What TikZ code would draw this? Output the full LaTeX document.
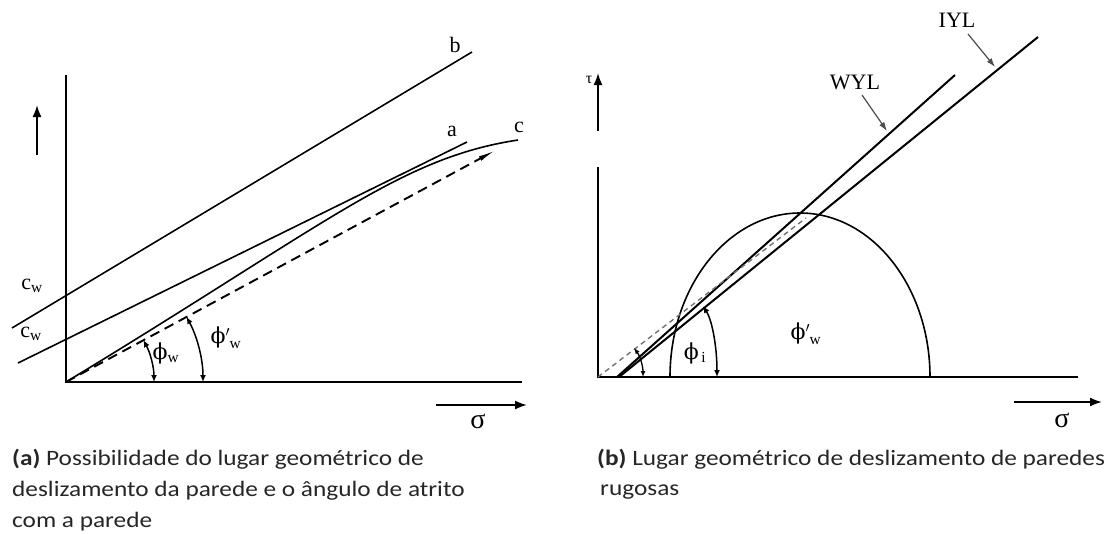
\documentclass[tikz,border=0pt]{standalone}
\usepackage{fontspec}
\setmainfont{Liberation Serif}
\newfontfamily\capfont[FakeStretch=1.15]{Carlito}
\newfontfamily\grk{DejaVu Serif}
\usetikzlibrary{arrows.meta}
\begin{document}
\begin{tikzpicture}[x=1pt,y=-1pt,
  ln/.style={line width=1.6pt},
  thk/.style={line width=2.0pt},
  ax/.style={line width=2.2pt},
  dirarrow/.style={line width=1.9pt,-{Latex[length=12pt,width=9pt]}},
  angarc/.style={line width=1.5pt,{Latex[length=7pt,width=6pt]}-{Latex[length=7pt,width=6pt]}},
  pointer/.style={line width=1.2pt,draw=black!70,-{Latex[length=9pt,width=6pt]}},
  lbl/.style={inner sep=0pt,font=\fontsize{22}{26}\selectfont},
  sig/.style={inner sep=0pt,font=\fontsize{28}{30}\selectfont},
  captxt/.style={inner sep=0pt,anchor=base west,text=black!85,font=\capfont\fontsize{22}{26}\selectfont}]

\fill[white] (0,0) rectangle (1113,533);
\useasboundingbox (0,0) rectangle (1113,533);

% ---------------- left panel ----------------
\coordinate (O1) at (66,382);
\coordinate (ytop1) at (66,75);
\coordinate (xend1) at (522,382);
\draw[ax] (ytop1) -- (O1) -- (xend1);

\coordinate (b0) at (12,328);  \coordinate (b1) at (472,52);
\coordinate (a0) at (18,363);  \coordinate (a1) at (467,142);
\coordinate (c1) at (518,140);
\coordinate (d1) at (496,150);
\draw[ln] (b0) -- (b1);
\draw[ln] (a0) -- (a1);
\draw[ln] (O1) .. controls (330,222) and (400,158) .. (c1);
\draw[line width=1.9pt,dash pattern=on 10pt off 6pt,-{Latex[length=18pt,width=5pt]}] (O1) -- (d1);

\draw[angarc] ([shift={(O1)}]-28.4:88) arc[start angle=-28.4,end angle=0,radius=88];
\draw[angarc] ([shift={(O1)}]-28.4:137) arc[start angle=-28.4,end angle=0,radius=137];

\node[lbl] (lb) at (455,45) {b};
\node[lbl] (la) at (452,131) {a};
\node[lbl] (lc) at (519,127) {c};
\node[lbl] (cw1) at (32,286) {$\mathrm{c}_{\mathrm{w}}$};
\node[lbl] (cw2) at (31,334) {$\mathrm{c}_{\mathrm{w}}$};
\node[lbl] (phw) at (166,353) {{\grk ϕ}$_{\mathrm{w}}$};
\node[lbl] (phw2) at (226,338) {{\grk ϕ}$'_{\;\mathrm{w}}$};

\coordinate (up0) at (37,155); \coordinate (up1) at (37,105);
\draw[dirarrow] (up0) -- (up1);
\coordinate (sa0) at (436,405); \coordinate (sa1) at (527,405);
\draw[dirarrow] (sa0) -- (sa1);
\node[sig] (sg1) at (478,421) {σ};

% ---------------- right panel ----------------
\coordinate (O2) at (598,377);
\coordinate (ytop2) at (598,167);
\coordinate (xend2) at (1078,377);
\draw[ax] (ytop2) -- (O2) -- (xend2);

\coordinate (w0) at (617,377); \coordinate (w1) at (955,75);
\coordinate (i0) at (619,377); \coordinate (i1) at (1038,37);
\draw[thk] (w0) -- (w1);
\draw[thk] (i0) -- (i1);
\draw[ln] (670,377) arc[start angle=180,end angle=360,x radius=130,y radius=164];
\coordinate (g1) at (806,218);
\draw[line width=1.4pt,black!55,dash pattern=on 5pt off 4pt] (O2) -- (g1);

\draw[angarc] (703,306) .. controls (713,322) and (717,350) .. (717,377);
\draw[line width=1.3pt,{Latex[length=6pt,width=5pt]}-{Latex[length=6pt,width=5pt]}] (634,348) .. controls (640,356) and (643,366) .. (643,377);

\node[inner sep=0pt,font=\fontsize{16}{18}\selectfont] (tau) at (589,80) {τ};
\coordinate (t0) at (598,131); \coordinate (t1) at (598,73);
\draw[dirarrow] (t0) -- (t1);

\node[lbl] (wyl) at (855,82) {WYL};
\node[lbl] (iyl) at (957,20) {IYL};
\coordinate (wylt) at (862,95); \coordinate (wylp) at (887,131);
\coordinate (iylt) at (968,34); \coordinate (iylp) at (995,67);
\draw[pointer] (wylt) -- (wylp);
\draw[pointer] (iylt) -- (iylp);

\node[lbl] (phi) at (695,353) {{\grk ϕ}$_{\,\mathrm{i}}$};
\node[lbl] (phw3) at (806,334) {{\grk ϕ}$'_{\;\mathrm{w}}$};

\coordinate (sb0) at (1014,402); \coordinate (sb1) at (1102,402);
\draw[dirarrow] (sb0) -- (sb1);
\node[sig] (sg2) at (1062,420) {σ};

% ---------------- captions ----------------
\node[captxt] (capa1) at (12,465) {{\bfseries (a)} Possibilidade do lugar geométrico de};
\node[captxt] (capa2) at (12,496) {deslizamento da parede e o ângulo de atrito};
\node[captxt] (capa3) at (12,527) {com a parede};
\node[captxt] (capb1) at (597,465) {{\bfseries (b)} Lugar geométrico de deslizamento de paredes};
\node[captxt] (capb2) at (600,495) {rugosas};
\end{tikzpicture}
\end{document}
